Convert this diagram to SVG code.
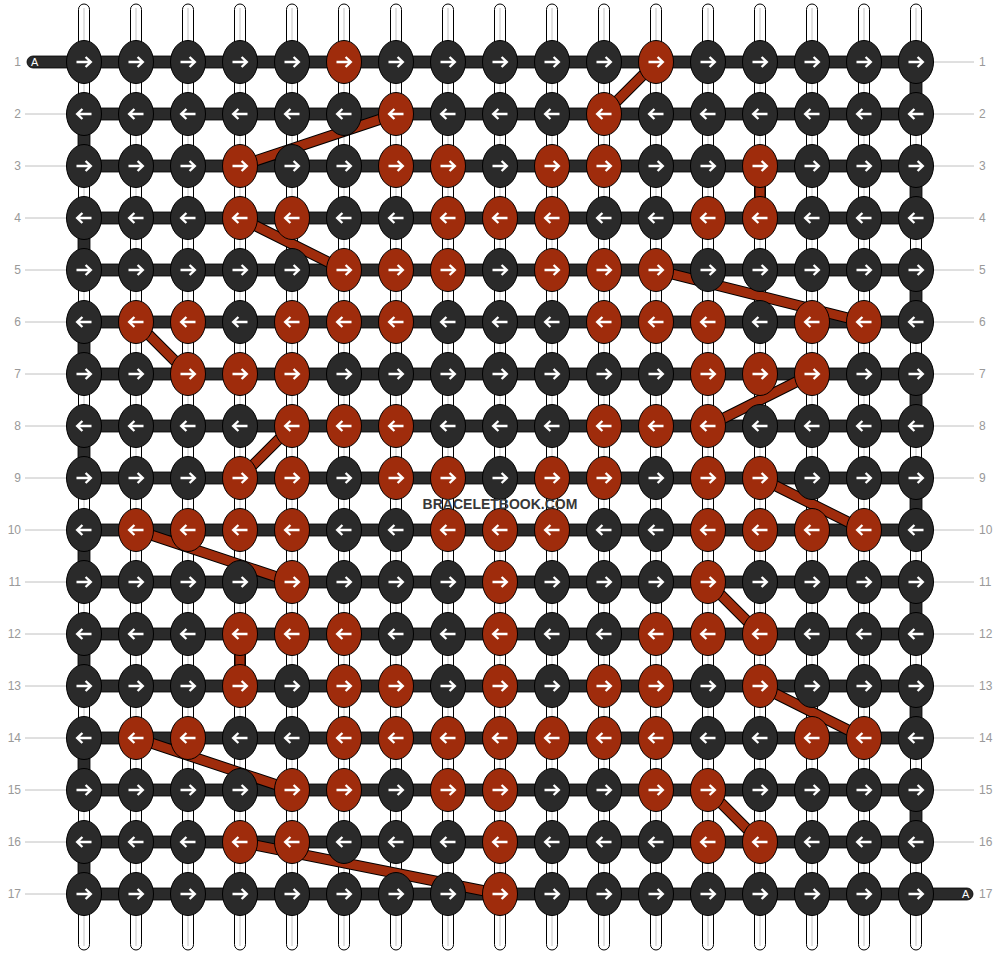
<svg xmlns="http://www.w3.org/2000/svg" xmlns:xlink="http://www.w3.org/1999/xlink" width="1000" height="956" viewBox="0 0 1000 956">
<style>
.d{fill:#2a2a2a}
.o{fill:#9f2c0c}
ellipse{stroke:#000;stroke-width:1}
.str rect{fill:#fff;stroke:#000;stroke-width:1}
.str line{stroke:#c4c4c4;stroke-width:1}
.bar{fill:#2a2a2a;stroke:#000;stroke-width:0.8}
.lbl{font-family:"Liberation Sans",Arial,sans-serif;font-size:12px;fill:#999}
.gl{stroke:#c0c0c0;stroke-width:1}
.at{font-family:"Liberation Sans",Arial,sans-serif;font-size:11px;fill:#fff}
.wm{font-family:"Liberation Sans",Arial,sans-serif;font-size:14px;font-weight:bold;fill:#383838}
</style>
<defs>
<path id="R" d="M-7.5,0H6.2M1.6,-5L6.8,0L1.6,5" fill="none" stroke="#fff" stroke-width="2.4"/>
<path id="L" d="M7.5,0H-6.2M-1.6,-5L-6.8,0L-1.6,5" fill="none" stroke="#fff" stroke-width="2.4"/>
</defs>
<g id="strings" class="str">
<rect x="78.5" y="4" width="11" height="946" rx="5.5"/><line x1="84" y1="8" x2="84" y2="946"/>
<rect x="130.5" y="4" width="11" height="946" rx="5.5"/><line x1="136" y1="8" x2="136" y2="946"/>
<rect x="182.5" y="4" width="11" height="946" rx="5.5"/><line x1="188" y1="8" x2="188" y2="946"/>
<rect x="234.5" y="4" width="11" height="946" rx="5.5"/><line x1="240" y1="8" x2="240" y2="946"/>
<rect x="286.5" y="4" width="11" height="946" rx="5.5"/><line x1="292" y1="8" x2="292" y2="946"/>
<rect x="338.5" y="4" width="11" height="946" rx="5.5"/><line x1="344" y1="8" x2="344" y2="946"/>
<rect x="390.5" y="4" width="11" height="946" rx="5.5"/><line x1="396" y1="8" x2="396" y2="946"/>
<rect x="442.5" y="4" width="11" height="946" rx="5.5"/><line x1="448" y1="8" x2="448" y2="946"/>
<rect x="494.5" y="4" width="11" height="946" rx="5.5"/><line x1="500" y1="8" x2="500" y2="946"/>
<rect x="546.5" y="4" width="11" height="946" rx="5.5"/><line x1="552" y1="8" x2="552" y2="946"/>
<rect x="598.5" y="4" width="11" height="946" rx="5.5"/><line x1="604" y1="8" x2="604" y2="946"/>
<rect x="650.5" y="4" width="11" height="946" rx="5.5"/><line x1="656" y1="8" x2="656" y2="946"/>
<rect x="702.5" y="4" width="11" height="946" rx="5.5"/><line x1="708" y1="8" x2="708" y2="946"/>
<rect x="754.5" y="4" width="11" height="946" rx="5.5"/><line x1="760" y1="8" x2="760" y2="946"/>
<rect x="806.5" y="4" width="11" height="946" rx="5.5"/><line x1="812" y1="8" x2="812" y2="946"/>
<rect x="858.5" y="4" width="11" height="946" rx="5.5"/><line x1="864" y1="8" x2="864" y2="946"/>
<rect x="910.5" y="4" width="11" height="946" rx="5.5"/><line x1="916" y1="8" x2="916" y2="946"/>
</g>
<g id="labels">
<g class="gl">
<line x1="25" y1="114" x2="67" y2="114"/><line x1="25" y1="166" x2="67" y2="166"/><line x1="25" y1="218" x2="67" y2="218"/><line x1="25" y1="270" x2="67" y2="270"/><line x1="25" y1="322" x2="67" y2="322"/><line x1="25" y1="374" x2="67" y2="374"/><line x1="25" y1="426" x2="67" y2="426"/><line x1="25" y1="478" x2="67" y2="478"/><line x1="25" y1="530" x2="67" y2="530"/><line x1="25" y1="582" x2="67" y2="582"/><line x1="25" y1="634" x2="67" y2="634"/><line x1="25" y1="686" x2="67" y2="686"/><line x1="25" y1="738" x2="67" y2="738"/><line x1="25" y1="790" x2="67" y2="790"/><line x1="25" y1="842" x2="67" y2="842"/><line x1="25" y1="894" x2="67" y2="894"/>
<line x1="933" y1="62" x2="974" y2="62"/><line x1="933" y1="114" x2="974" y2="114"/><line x1="933" y1="166" x2="974" y2="166"/><line x1="933" y1="218" x2="974" y2="218"/><line x1="933" y1="270" x2="974" y2="270"/><line x1="933" y1="322" x2="974" y2="322"/><line x1="933" y1="374" x2="974" y2="374"/><line x1="933" y1="426" x2="974" y2="426"/><line x1="933" y1="478" x2="974" y2="478"/><line x1="933" y1="530" x2="974" y2="530"/><line x1="933" y1="582" x2="974" y2="582"/><line x1="933" y1="634" x2="974" y2="634"/><line x1="933" y1="686" x2="974" y2="686"/><line x1="933" y1="738" x2="974" y2="738"/><line x1="933" y1="790" x2="974" y2="790"/><line x1="933" y1="842" x2="974" y2="842"/>
</g>
<g class="lbl" text-anchor="end">
<text x="21" y="66">1</text><text x="21" y="118">2</text><text x="21" y="170">3</text><text x="21" y="222">4</text><text x="21" y="274">5</text><text x="21" y="326">6</text><text x="21" y="378">7</text><text x="21" y="430">8</text><text x="21" y="482">9</text><text x="21" y="534">10</text><text x="21" y="586">11</text><text x="21" y="638">12</text><text x="21" y="690">13</text><text x="21" y="742">14</text><text x="21" y="794">15</text><text x="21" y="846">16</text><text x="21" y="898">17</text>
</g>
<g class="lbl">
<text x="979" y="66">1</text><text x="979" y="118">2</text><text x="979" y="170">3</text><text x="979" y="222">4</text><text x="979" y="274">5</text><text x="979" y="326">6</text><text x="979" y="378">7</text><text x="979" y="430">8</text><text x="979" y="482">9</text><text x="979" y="534">10</text><text x="979" y="586">11</text><text x="979" y="638">12</text><text x="979" y="690">13</text><text x="979" y="742">14</text><text x="979" y="794">15</text><text x="979" y="846">16</text><text x="979" y="898">17</text>
</g>
</g>
<g id="connectors">
<g class="bar">
<rect x="27" y="56" width="62" height="12" rx="6"/>
<rect x="911" y="888" width="62" height="12" rx="6"/>
<rect x="84" y="56" width="832" height="12"/><rect x="84" y="108" width="832" height="12"/><rect x="84" y="160" width="832" height="12"/><rect x="84" y="212" width="832" height="12"/><rect x="84" y="264" width="832" height="12"/><rect x="84" y="316" width="832" height="12"/><rect x="84" y="368" width="832" height="12"/><rect x="84" y="420" width="832" height="12"/><rect x="84" y="472" width="832" height="12"/><rect x="84" y="524" width="832" height="12"/><rect x="84" y="576" width="832" height="12"/><rect x="84" y="628" width="832" height="12"/><rect x="84" y="680" width="832" height="12"/><rect x="84" y="732" width="832" height="12"/><rect x="84" y="784" width="832" height="12"/><rect x="84" y="836" width="832" height="12"/><rect x="84" y="888" width="832" height="12"/>
<rect x="910" y="62" width="12" height="52"/><rect x="910" y="166" width="12" height="52"/><rect x="910" y="270" width="12" height="52"/><rect x="910" y="374" width="12" height="52"/><rect x="910" y="478" width="12" height="52"/><rect x="910" y="582" width="12" height="52"/><rect x="910" y="686" width="12" height="52"/><rect x="910" y="790" width="12" height="52"/>
<rect x="78" y="114" width="12" height="52"/><rect x="78" y="218" width="12" height="52"/><rect x="78" y="322" width="12" height="52"/><rect x="78" y="426" width="12" height="52"/><rect x="78" y="530" width="12" height="52"/><rect x="78" y="634" width="12" height="52"/><rect x="78" y="738" width="12" height="52"/><rect x="78" y="842" width="12" height="52"/>
</g>
<path id="ob" fill="none" stroke="#000" stroke-width="11" d="M656,62L604,114M396,114L240,166M760,166L760,218M240,218L344,270M656,270L864,322M136,322L188,374M812,374L708,426M292,426L240,478M760,478L864,530M136,530L292,582M708,582L760,634M240,634L240,686M760,686L864,738M136,738L292,790M708,790L760,842M240,842L500,894"/>
<path fill="none" stroke="#9f2c0c" stroke-width="9" d="M656,62L604,114M396,114L240,166M760,166L760,218M240,218L344,270M656,270L864,322M136,322L188,374M812,374L708,426M292,426L240,478M760,478L864,530M136,530L292,582M708,582L760,634M240,634L240,686M760,686L864,738M136,738L292,790M708,790L760,842M240,842L500,894"/>
</g>
<g id="knots">
<g id="r1c1" transform="translate(84,62)"><ellipse class="d" rx="17.5" ry="21.5"/><use href="#R"/></g>
<g id="r1c2" transform="translate(136,62)"><ellipse class="d" rx="17.5" ry="21.5"/><use href="#R"/></g>
<g id="r1c3" transform="translate(188,62)"><ellipse class="d" rx="17.5" ry="21.5"/><use href="#R"/></g>
<g id="r1c4" transform="translate(240,62)"><ellipse class="d" rx="17.5" ry="21.5"/><use href="#R"/></g>
<g id="r1c5" transform="translate(292,62)"><ellipse class="d" rx="17.5" ry="21.5"/><use href="#R"/></g>
<g id="r1c6" transform="translate(344,62)"><ellipse class="o" rx="17.5" ry="21.5"/><use href="#R"/></g>
<g id="r1c7" transform="translate(396,62)"><ellipse class="d" rx="17.5" ry="21.5"/><use href="#R"/></g>
<g id="r1c8" transform="translate(448,62)"><ellipse class="d" rx="17.5" ry="21.5"/><use href="#R"/></g>
<g id="r1c9" transform="translate(500,62)"><ellipse class="d" rx="17.5" ry="21.5"/><use href="#R"/></g>
<g id="r1c10" transform="translate(552,62)"><ellipse class="d" rx="17.5" ry="21.5"/><use href="#R"/></g>
<g id="r1c11" transform="translate(604,62)"><ellipse class="d" rx="17.5" ry="21.5"/><use href="#R"/></g>
<g id="r1c12" transform="translate(656,62)"><ellipse class="o" rx="17.5" ry="21.5"/><use href="#R"/></g>
<g id="r1c13" transform="translate(708,62)"><ellipse class="d" rx="17.5" ry="21.5"/><use href="#R"/></g>
<g id="r1c14" transform="translate(760,62)"><ellipse class="d" rx="17.5" ry="21.5"/><use href="#R"/></g>
<g id="r1c15" transform="translate(812,62)"><ellipse class="d" rx="17.5" ry="21.5"/><use href="#R"/></g>
<g id="r1c16" transform="translate(864,62)"><ellipse class="d" rx="17.5" ry="21.5"/><use href="#R"/></g>
<g id="r1c17" transform="translate(916,62)"><ellipse class="d" rx="17.5" ry="21.5"/><use href="#R"/></g>
<g id="r2c1" transform="translate(84,114)"><ellipse class="d" rx="17.5" ry="21.5"/><use href="#L"/></g>
<g id="r2c2" transform="translate(136,114)"><ellipse class="d" rx="17.5" ry="21.5"/><use href="#L"/></g>
<g id="r2c3" transform="translate(188,114)"><ellipse class="d" rx="17.5" ry="21.5"/><use href="#L"/></g>
<g id="r2c4" transform="translate(240,114)"><ellipse class="d" rx="17.5" ry="21.5"/><use href="#L"/></g>
<g id="r2c5" transform="translate(292,114)"><ellipse class="d" rx="17.5" ry="21.5"/><use href="#L"/></g>
<g id="r2c6" transform="translate(344,114)"><ellipse class="d" rx="17.5" ry="21.5"/><use href="#L"/></g>
<g id="r2c7" transform="translate(396,114)"><ellipse class="o" rx="17.5" ry="21.5"/><use href="#L"/></g>
<g id="r2c8" transform="translate(448,114)"><ellipse class="d" rx="17.5" ry="21.5"/><use href="#L"/></g>
<g id="r2c9" transform="translate(500,114)"><ellipse class="d" rx="17.5" ry="21.5"/><use href="#L"/></g>
<g id="r2c10" transform="translate(552,114)"><ellipse class="d" rx="17.5" ry="21.5"/><use href="#L"/></g>
<g id="r2c11" transform="translate(604,114)"><ellipse class="o" rx="17.5" ry="21.5"/><use href="#L"/></g>
<g id="r2c12" transform="translate(656,114)"><ellipse class="d" rx="17.5" ry="21.5"/><use href="#L"/></g>
<g id="r2c13" transform="translate(708,114)"><ellipse class="d" rx="17.5" ry="21.5"/><use href="#L"/></g>
<g id="r2c14" transform="translate(760,114)"><ellipse class="d" rx="17.5" ry="21.5"/><use href="#L"/></g>
<g id="r2c15" transform="translate(812,114)"><ellipse class="d" rx="17.5" ry="21.5"/><use href="#L"/></g>
<g id="r2c16" transform="translate(864,114)"><ellipse class="d" rx="17.5" ry="21.5"/><use href="#L"/></g>
<g id="r2c17" transform="translate(916,114)"><ellipse class="d" rx="17.5" ry="21.5"/><use href="#L"/></g>
<g id="r3c1" transform="translate(84,166)"><ellipse class="d" rx="17.5" ry="21.5"/><use href="#R"/></g>
<g id="r3c2" transform="translate(136,166)"><ellipse class="d" rx="17.5" ry="21.5"/><use href="#R"/></g>
<g id="r3c3" transform="translate(188,166)"><ellipse class="d" rx="17.5" ry="21.5"/><use href="#R"/></g>
<g id="r3c4" transform="translate(240,166)"><ellipse class="o" rx="17.5" ry="21.5"/><use href="#R"/></g>
<g id="r3c5" transform="translate(292,166)"><ellipse class="d" rx="17.5" ry="21.5"/><use href="#R"/></g>
<g id="r3c6" transform="translate(344,166)"><ellipse class="d" rx="17.5" ry="21.5"/><use href="#R"/></g>
<g id="r3c7" transform="translate(396,166)"><ellipse class="o" rx="17.5" ry="21.5"/><use href="#R"/></g>
<g id="r3c8" transform="translate(448,166)"><ellipse class="o" rx="17.5" ry="21.5"/><use href="#R"/></g>
<g id="r3c9" transform="translate(500,166)"><ellipse class="d" rx="17.5" ry="21.5"/><use href="#R"/></g>
<g id="r3c10" transform="translate(552,166)"><ellipse class="o" rx="17.5" ry="21.5"/><use href="#R"/></g>
<g id="r3c11" transform="translate(604,166)"><ellipse class="o" rx="17.5" ry="21.5"/><use href="#R"/></g>
<g id="r3c12" transform="translate(656,166)"><ellipse class="d" rx="17.5" ry="21.5"/><use href="#R"/></g>
<g id="r3c13" transform="translate(708,166)"><ellipse class="d" rx="17.5" ry="21.5"/><use href="#R"/></g>
<g id="r3c14" transform="translate(760,166)"><ellipse class="o" rx="17.5" ry="21.5"/><use href="#R"/></g>
<g id="r3c15" transform="translate(812,166)"><ellipse class="d" rx="17.5" ry="21.5"/><use href="#R"/></g>
<g id="r3c16" transform="translate(864,166)"><ellipse class="d" rx="17.5" ry="21.5"/><use href="#R"/></g>
<g id="r3c17" transform="translate(916,166)"><ellipse class="d" rx="17.5" ry="21.5"/><use href="#R"/></g>
<g id="r4c1" transform="translate(84,218)"><ellipse class="d" rx="17.5" ry="21.5"/><use href="#L"/></g>
<g id="r4c2" transform="translate(136,218)"><ellipse class="d" rx="17.5" ry="21.5"/><use href="#L"/></g>
<g id="r4c3" transform="translate(188,218)"><ellipse class="d" rx="17.5" ry="21.5"/><use href="#L"/></g>
<g id="r4c4" transform="translate(240,218)"><ellipse class="o" rx="17.5" ry="21.5"/><use href="#L"/></g>
<g id="r4c5" transform="translate(292,218)"><ellipse class="o" rx="17.5" ry="21.5"/><use href="#L"/></g>
<g id="r4c6" transform="translate(344,218)"><ellipse class="d" rx="17.5" ry="21.5"/><use href="#L"/></g>
<g id="r4c7" transform="translate(396,218)"><ellipse class="d" rx="17.5" ry="21.5"/><use href="#L"/></g>
<g id="r4c8" transform="translate(448,218)"><ellipse class="o" rx="17.5" ry="21.5"/><use href="#L"/></g>
<g id="r4c9" transform="translate(500,218)"><ellipse class="o" rx="17.5" ry="21.5"/><use href="#L"/></g>
<g id="r4c10" transform="translate(552,218)"><ellipse class="o" rx="17.5" ry="21.5"/><use href="#L"/></g>
<g id="r4c11" transform="translate(604,218)"><ellipse class="d" rx="17.5" ry="21.5"/><use href="#L"/></g>
<g id="r4c12" transform="translate(656,218)"><ellipse class="d" rx="17.5" ry="21.5"/><use href="#L"/></g>
<g id="r4c13" transform="translate(708,218)"><ellipse class="o" rx="17.5" ry="21.5"/><use href="#L"/></g>
<g id="r4c14" transform="translate(760,218)"><ellipse class="o" rx="17.5" ry="21.5"/><use href="#L"/></g>
<g id="r4c15" transform="translate(812,218)"><ellipse class="d" rx="17.5" ry="21.5"/><use href="#L"/></g>
<g id="r4c16" transform="translate(864,218)"><ellipse class="d" rx="17.5" ry="21.5"/><use href="#L"/></g>
<g id="r4c17" transform="translate(916,218)"><ellipse class="d" rx="17.5" ry="21.5"/><use href="#L"/></g>
<g id="r5c1" transform="translate(84,270)"><ellipse class="d" rx="17.5" ry="21.5"/><use href="#R"/></g>
<g id="r5c2" transform="translate(136,270)"><ellipse class="d" rx="17.5" ry="21.5"/><use href="#R"/></g>
<g id="r5c3" transform="translate(188,270)"><ellipse class="d" rx="17.5" ry="21.5"/><use href="#R"/></g>
<g id="r5c4" transform="translate(240,270)"><ellipse class="d" rx="17.5" ry="21.5"/><use href="#R"/></g>
<g id="r5c5" transform="translate(292,270)"><ellipse class="d" rx="17.5" ry="21.5"/><use href="#R"/></g>
<g id="r5c6" transform="translate(344,270)"><ellipse class="o" rx="17.5" ry="21.5"/><use href="#R"/></g>
<g id="r5c7" transform="translate(396,270)"><ellipse class="o" rx="17.5" ry="21.5"/><use href="#R"/></g>
<g id="r5c8" transform="translate(448,270)"><ellipse class="o" rx="17.5" ry="21.5"/><use href="#R"/></g>
<g id="r5c9" transform="translate(500,270)"><ellipse class="d" rx="17.5" ry="21.5"/><use href="#R"/></g>
<g id="r5c10" transform="translate(552,270)"><ellipse class="o" rx="17.5" ry="21.5"/><use href="#R"/></g>
<g id="r5c11" transform="translate(604,270)"><ellipse class="o" rx="17.5" ry="21.5"/><use href="#R"/></g>
<g id="r5c12" transform="translate(656,270)"><ellipse class="o" rx="17.5" ry="21.5"/><use href="#R"/></g>
<g id="r5c13" transform="translate(708,270)"><ellipse class="d" rx="17.5" ry="21.5"/><use href="#R"/></g>
<g id="r5c14" transform="translate(760,270)"><ellipse class="d" rx="17.5" ry="21.5"/><use href="#R"/></g>
<g id="r5c15" transform="translate(812,270)"><ellipse class="d" rx="17.5" ry="21.5"/><use href="#R"/></g>
<g id="r5c16" transform="translate(864,270)"><ellipse class="d" rx="17.5" ry="21.5"/><use href="#R"/></g>
<g id="r5c17" transform="translate(916,270)"><ellipse class="d" rx="17.5" ry="21.5"/><use href="#R"/></g>
<g id="r6c1" transform="translate(84,322)"><ellipse class="d" rx="17.5" ry="21.5"/><use href="#L"/></g>
<g id="r6c2" transform="translate(136,322)"><ellipse class="o" rx="17.5" ry="21.5"/><use href="#L"/></g>
<g id="r6c3" transform="translate(188,322)"><ellipse class="o" rx="17.5" ry="21.5"/><use href="#L"/></g>
<g id="r6c4" transform="translate(240,322)"><ellipse class="d" rx="17.5" ry="21.5"/><use href="#L"/></g>
<g id="r6c5" transform="translate(292,322)"><ellipse class="o" rx="17.5" ry="21.5"/><use href="#L"/></g>
<g id="r6c6" transform="translate(344,322)"><ellipse class="o" rx="17.5" ry="21.5"/><use href="#L"/></g>
<g id="r6c7" transform="translate(396,322)"><ellipse class="o" rx="17.5" ry="21.5"/><use href="#L"/></g>
<g id="r6c8" transform="translate(448,322)"><ellipse class="d" rx="17.5" ry="21.5"/><use href="#L"/></g>
<g id="r6c9" transform="translate(500,322)"><ellipse class="d" rx="17.5" ry="21.5"/><use href="#L"/></g>
<g id="r6c10" transform="translate(552,322)"><ellipse class="d" rx="17.5" ry="21.5"/><use href="#L"/></g>
<g id="r6c11" transform="translate(604,322)"><ellipse class="o" rx="17.5" ry="21.5"/><use href="#L"/></g>
<g id="r6c12" transform="translate(656,322)"><ellipse class="o" rx="17.5" ry="21.5"/><use href="#L"/></g>
<g id="r6c13" transform="translate(708,322)"><ellipse class="o" rx="17.5" ry="21.5"/><use href="#L"/></g>
<g id="r6c14" transform="translate(760,322)"><ellipse class="d" rx="17.5" ry="21.5"/><use href="#L"/></g>
<g id="r6c15" transform="translate(812,322)"><ellipse class="o" rx="17.5" ry="21.5"/><use href="#L"/></g>
<g id="r6c16" transform="translate(864,322)"><ellipse class="o" rx="17.5" ry="21.5"/><use href="#L"/></g>
<g id="r6c17" transform="translate(916,322)"><ellipse class="d" rx="17.5" ry="21.5"/><use href="#L"/></g>
<g id="r7c1" transform="translate(84,374)"><ellipse class="d" rx="17.5" ry="21.5"/><use href="#R"/></g>
<g id="r7c2" transform="translate(136,374)"><ellipse class="d" rx="17.5" ry="21.5"/><use href="#R"/></g>
<g id="r7c3" transform="translate(188,374)"><ellipse class="o" rx="17.5" ry="21.5"/><use href="#R"/></g>
<g id="r7c4" transform="translate(240,374)"><ellipse class="o" rx="17.5" ry="21.5"/><use href="#R"/></g>
<g id="r7c5" transform="translate(292,374)"><ellipse class="o" rx="17.5" ry="21.5"/><use href="#R"/></g>
<g id="r7c6" transform="translate(344,374)"><ellipse class="d" rx="17.5" ry="21.5"/><use href="#R"/></g>
<g id="r7c7" transform="translate(396,374)"><ellipse class="d" rx="17.5" ry="21.5"/><use href="#R"/></g>
<g id="r7c8" transform="translate(448,374)"><ellipse class="d" rx="17.5" ry="21.5"/><use href="#R"/></g>
<g id="r7c9" transform="translate(500,374)"><ellipse class="d" rx="17.5" ry="21.5"/><use href="#R"/></g>
<g id="r7c10" transform="translate(552,374)"><ellipse class="d" rx="17.5" ry="21.5"/><use href="#R"/></g>
<g id="r7c11" transform="translate(604,374)"><ellipse class="d" rx="17.5" ry="21.5"/><use href="#R"/></g>
<g id="r7c12" transform="translate(656,374)"><ellipse class="d" rx="17.5" ry="21.5"/><use href="#R"/></g>
<g id="r7c13" transform="translate(708,374)"><ellipse class="o" rx="17.5" ry="21.5"/><use href="#R"/></g>
<g id="r7c14" transform="translate(760,374)"><ellipse class="o" rx="17.5" ry="21.5"/><use href="#R"/></g>
<g id="r7c15" transform="translate(812,374)"><ellipse class="o" rx="17.5" ry="21.5"/><use href="#R"/></g>
<g id="r7c16" transform="translate(864,374)"><ellipse class="d" rx="17.5" ry="21.5"/><use href="#R"/></g>
<g id="r7c17" transform="translate(916,374)"><ellipse class="d" rx="17.5" ry="21.5"/><use href="#R"/></g>
<g id="r8c1" transform="translate(84,426)"><ellipse class="d" rx="17.5" ry="21.5"/><use href="#L"/></g>
<g id="r8c2" transform="translate(136,426)"><ellipse class="d" rx="17.5" ry="21.5"/><use href="#L"/></g>
<g id="r8c3" transform="translate(188,426)"><ellipse class="d" rx="17.5" ry="21.5"/><use href="#L"/></g>
<g id="r8c4" transform="translate(240,426)"><ellipse class="d" rx="17.5" ry="21.5"/><use href="#L"/></g>
<g id="r8c5" transform="translate(292,426)"><ellipse class="o" rx="17.5" ry="21.5"/><use href="#L"/></g>
<g id="r8c6" transform="translate(344,426)"><ellipse class="o" rx="17.5" ry="21.5"/><use href="#L"/></g>
<g id="r8c7" transform="translate(396,426)"><ellipse class="o" rx="17.5" ry="21.5"/><use href="#L"/></g>
<g id="r8c8" transform="translate(448,426)"><ellipse class="d" rx="17.5" ry="21.5"/><use href="#L"/></g>
<g id="r8c9" transform="translate(500,426)"><ellipse class="d" rx="17.5" ry="21.5"/><use href="#L"/></g>
<g id="r8c10" transform="translate(552,426)"><ellipse class="d" rx="17.5" ry="21.5"/><use href="#L"/></g>
<g id="r8c11" transform="translate(604,426)"><ellipse class="o" rx="17.5" ry="21.5"/><use href="#L"/></g>
<g id="r8c12" transform="translate(656,426)"><ellipse class="o" rx="17.5" ry="21.5"/><use href="#L"/></g>
<g id="r8c13" transform="translate(708,426)"><ellipse class="o" rx="17.5" ry="21.5"/><use href="#L"/></g>
<g id="r8c14" transform="translate(760,426)"><ellipse class="d" rx="17.5" ry="21.5"/><use href="#L"/></g>
<g id="r8c15" transform="translate(812,426)"><ellipse class="d" rx="17.5" ry="21.5"/><use href="#L"/></g>
<g id="r8c16" transform="translate(864,426)"><ellipse class="d" rx="17.5" ry="21.5"/><use href="#L"/></g>
<g id="r8c17" transform="translate(916,426)"><ellipse class="d" rx="17.5" ry="21.5"/><use href="#L"/></g>
<g id="r9c1" transform="translate(84,478)"><ellipse class="d" rx="17.5" ry="21.5"/><use href="#R"/></g>
<g id="r9c2" transform="translate(136,478)"><ellipse class="d" rx="17.5" ry="21.5"/><use href="#R"/></g>
<g id="r9c3" transform="translate(188,478)"><ellipse class="d" rx="17.5" ry="21.5"/><use href="#R"/></g>
<g id="r9c4" transform="translate(240,478)"><ellipse class="o" rx="17.5" ry="21.5"/><use href="#R"/></g>
<g id="r9c5" transform="translate(292,478)"><ellipse class="o" rx="17.5" ry="21.5"/><use href="#R"/></g>
<g id="r9c6" transform="translate(344,478)"><ellipse class="d" rx="17.5" ry="21.5"/><use href="#R"/></g>
<g id="r9c7" transform="translate(396,478)"><ellipse class="o" rx="17.5" ry="21.5"/><use href="#R"/></g>
<g id="r9c8" transform="translate(448,478)"><ellipse class="o" rx="17.5" ry="21.5"/><use href="#R"/></g>
<g id="r9c9" transform="translate(500,478)"><ellipse class="d" rx="17.5" ry="21.5"/><use href="#R"/></g>
<g id="r9c10" transform="translate(552,478)"><ellipse class="o" rx="17.5" ry="21.5"/><use href="#R"/></g>
<g id="r9c11" transform="translate(604,478)"><ellipse class="o" rx="17.5" ry="21.5"/><use href="#R"/></g>
<g id="r9c12" transform="translate(656,478)"><ellipse class="d" rx="17.5" ry="21.5"/><use href="#R"/></g>
<g id="r9c13" transform="translate(708,478)"><ellipse class="o" rx="17.5" ry="21.5"/><use href="#R"/></g>
<g id="r9c14" transform="translate(760,478)"><ellipse class="o" rx="17.5" ry="21.5"/><use href="#R"/></g>
<g id="r9c15" transform="translate(812,478)"><ellipse class="d" rx="17.5" ry="21.5"/><use href="#R"/></g>
<g id="r9c16" transform="translate(864,478)"><ellipse class="d" rx="17.5" ry="21.5"/><use href="#R"/></g>
<g id="r9c17" transform="translate(916,478)"><ellipse class="d" rx="17.5" ry="21.5"/><use href="#R"/></g>
<g id="r10c1" transform="translate(84,530)"><ellipse class="d" rx="17.5" ry="21.5"/><use href="#L"/></g>
<g id="r10c2" transform="translate(136,530)"><ellipse class="o" rx="17.5" ry="21.5"/><use href="#L"/></g>
<g id="r10c3" transform="translate(188,530)"><ellipse class="o" rx="17.5" ry="21.5"/><use href="#L"/></g>
<g id="r10c4" transform="translate(240,530)"><ellipse class="o" rx="17.5" ry="21.5"/><use href="#L"/></g>
<g id="r10c5" transform="translate(292,530)"><ellipse class="o" rx="17.5" ry="21.5"/><use href="#L"/></g>
<g id="r10c6" transform="translate(344,530)"><ellipse class="d" rx="17.5" ry="21.5"/><use href="#L"/></g>
<g id="r10c7" transform="translate(396,530)"><ellipse class="d" rx="17.5" ry="21.5"/><use href="#L"/></g>
<g id="r10c8" transform="translate(448,530)"><ellipse class="o" rx="17.5" ry="21.5"/><use href="#L"/></g>
<g id="r10c9" transform="translate(500,530)"><ellipse class="o" rx="17.5" ry="21.5"/><use href="#L"/></g>
<g id="r10c10" transform="translate(552,530)"><ellipse class="o" rx="17.5" ry="21.5"/><use href="#L"/></g>
<g id="r10c11" transform="translate(604,530)"><ellipse class="d" rx="17.5" ry="21.5"/><use href="#L"/></g>
<g id="r10c12" transform="translate(656,530)"><ellipse class="d" rx="17.5" ry="21.5"/><use href="#L"/></g>
<g id="r10c13" transform="translate(708,530)"><ellipse class="o" rx="17.5" ry="21.5"/><use href="#L"/></g>
<g id="r10c14" transform="translate(760,530)"><ellipse class="o" rx="17.5" ry="21.5"/><use href="#L"/></g>
<g id="r10c15" transform="translate(812,530)"><ellipse class="o" rx="17.5" ry="21.5"/><use href="#L"/></g>
<g id="r10c16" transform="translate(864,530)"><ellipse class="o" rx="17.5" ry="21.5"/><use href="#L"/></g>
<g id="r10c17" transform="translate(916,530)"><ellipse class="d" rx="17.5" ry="21.5"/><use href="#L"/></g>
<g id="r11c1" transform="translate(84,582)"><ellipse class="d" rx="17.5" ry="21.5"/><use href="#R"/></g>
<g id="r11c2" transform="translate(136,582)"><ellipse class="d" rx="17.5" ry="21.5"/><use href="#R"/></g>
<g id="r11c3" transform="translate(188,582)"><ellipse class="d" rx="17.5" ry="21.5"/><use href="#R"/></g>
<g id="r11c4" transform="translate(240,582)"><ellipse class="d" rx="17.5" ry="21.5"/><use href="#R"/></g>
<g id="r11c5" transform="translate(292,582)"><ellipse class="o" rx="17.5" ry="21.5"/><use href="#R"/></g>
<g id="r11c6" transform="translate(344,582)"><ellipse class="d" rx="17.5" ry="21.5"/><use href="#R"/></g>
<g id="r11c7" transform="translate(396,582)"><ellipse class="d" rx="17.5" ry="21.5"/><use href="#R"/></g>
<g id="r11c8" transform="translate(448,582)"><ellipse class="d" rx="17.5" ry="21.5"/><use href="#R"/></g>
<g id="r11c9" transform="translate(500,582)"><ellipse class="o" rx="17.5" ry="21.5"/><use href="#R"/></g>
<g id="r11c10" transform="translate(552,582)"><ellipse class="d" rx="17.5" ry="21.5"/><use href="#R"/></g>
<g id="r11c11" transform="translate(604,582)"><ellipse class="d" rx="17.5" ry="21.5"/><use href="#R"/></g>
<g id="r11c12" transform="translate(656,582)"><ellipse class="d" rx="17.5" ry="21.5"/><use href="#R"/></g>
<g id="r11c13" transform="translate(708,582)"><ellipse class="o" rx="17.5" ry="21.5"/><use href="#R"/></g>
<g id="r11c14" transform="translate(760,582)"><ellipse class="d" rx="17.5" ry="21.5"/><use href="#R"/></g>
<g id="r11c15" transform="translate(812,582)"><ellipse class="d" rx="17.5" ry="21.5"/><use href="#R"/></g>
<g id="r11c16" transform="translate(864,582)"><ellipse class="d" rx="17.5" ry="21.5"/><use href="#R"/></g>
<g id="r11c17" transform="translate(916,582)"><ellipse class="d" rx="17.5" ry="21.5"/><use href="#R"/></g>
<g id="r12c1" transform="translate(84,634)"><ellipse class="d" rx="17.5" ry="21.5"/><use href="#L"/></g>
<g id="r12c2" transform="translate(136,634)"><ellipse class="d" rx="17.5" ry="21.5"/><use href="#L"/></g>
<g id="r12c3" transform="translate(188,634)"><ellipse class="d" rx="17.5" ry="21.5"/><use href="#L"/></g>
<g id="r12c4" transform="translate(240,634)"><ellipse class="o" rx="17.5" ry="21.5"/><use href="#L"/></g>
<g id="r12c5" transform="translate(292,634)"><ellipse class="o" rx="17.5" ry="21.5"/><use href="#L"/></g>
<g id="r12c6" transform="translate(344,634)"><ellipse class="o" rx="17.5" ry="21.5"/><use href="#L"/></g>
<g id="r12c7" transform="translate(396,634)"><ellipse class="d" rx="17.5" ry="21.5"/><use href="#L"/></g>
<g id="r12c8" transform="translate(448,634)"><ellipse class="d" rx="17.5" ry="21.5"/><use href="#L"/></g>
<g id="r12c9" transform="translate(500,634)"><ellipse class="o" rx="17.5" ry="21.5"/><use href="#L"/></g>
<g id="r12c10" transform="translate(552,634)"><ellipse class="d" rx="17.5" ry="21.5"/><use href="#L"/></g>
<g id="r12c11" transform="translate(604,634)"><ellipse class="d" rx="17.5" ry="21.5"/><use href="#L"/></g>
<g id="r12c12" transform="translate(656,634)"><ellipse class="o" rx="17.5" ry="21.5"/><use href="#L"/></g>
<g id="r12c13" transform="translate(708,634)"><ellipse class="o" rx="17.5" ry="21.5"/><use href="#L"/></g>
<g id="r12c14" transform="translate(760,634)"><ellipse class="o" rx="17.5" ry="21.5"/><use href="#L"/></g>
<g id="r12c15" transform="translate(812,634)"><ellipse class="d" rx="17.5" ry="21.5"/><use href="#L"/></g>
<g id="r12c16" transform="translate(864,634)"><ellipse class="d" rx="17.5" ry="21.5"/><use href="#L"/></g>
<g id="r12c17" transform="translate(916,634)"><ellipse class="d" rx="17.5" ry="21.5"/><use href="#L"/></g>
<g id="r13c1" transform="translate(84,686)"><ellipse class="d" rx="17.5" ry="21.5"/><use href="#R"/></g>
<g id="r13c2" transform="translate(136,686)"><ellipse class="d" rx="17.5" ry="21.5"/><use href="#R"/></g>
<g id="r13c3" transform="translate(188,686)"><ellipse class="d" rx="17.5" ry="21.5"/><use href="#R"/></g>
<g id="r13c4" transform="translate(240,686)"><ellipse class="o" rx="17.5" ry="21.5"/><use href="#R"/></g>
<g id="r13c5" transform="translate(292,686)"><ellipse class="d" rx="17.5" ry="21.5"/><use href="#R"/></g>
<g id="r13c6" transform="translate(344,686)"><ellipse class="o" rx="17.5" ry="21.5"/><use href="#R"/></g>
<g id="r13c7" transform="translate(396,686)"><ellipse class="o" rx="17.5" ry="21.5"/><use href="#R"/></g>
<g id="r13c8" transform="translate(448,686)"><ellipse class="d" rx="17.5" ry="21.5"/><use href="#R"/></g>
<g id="r13c9" transform="translate(500,686)"><ellipse class="o" rx="17.5" ry="21.5"/><use href="#R"/></g>
<g id="r13c10" transform="translate(552,686)"><ellipse class="d" rx="17.5" ry="21.5"/><use href="#R"/></g>
<g id="r13c11" transform="translate(604,686)"><ellipse class="o" rx="17.5" ry="21.5"/><use href="#R"/></g>
<g id="r13c12" transform="translate(656,686)"><ellipse class="o" rx="17.5" ry="21.5"/><use href="#R"/></g>
<g id="r13c13" transform="translate(708,686)"><ellipse class="d" rx="17.5" ry="21.5"/><use href="#R"/></g>
<g id="r13c14" transform="translate(760,686)"><ellipse class="o" rx="17.5" ry="21.5"/><use href="#R"/></g>
<g id="r13c15" transform="translate(812,686)"><ellipse class="d" rx="17.5" ry="21.5"/><use href="#R"/></g>
<g id="r13c16" transform="translate(864,686)"><ellipse class="d" rx="17.5" ry="21.5"/><use href="#R"/></g>
<g id="r13c17" transform="translate(916,686)"><ellipse class="d" rx="17.5" ry="21.5"/><use href="#R"/></g>
<g id="r14c1" transform="translate(84,738)"><ellipse class="d" rx="17.5" ry="21.5"/><use href="#L"/></g>
<g id="r14c2" transform="translate(136,738)"><ellipse class="o" rx="17.5" ry="21.5"/><use href="#L"/></g>
<g id="r14c3" transform="translate(188,738)"><ellipse class="o" rx="17.5" ry="21.5"/><use href="#L"/></g>
<g id="r14c4" transform="translate(240,738)"><ellipse class="d" rx="17.5" ry="21.5"/><use href="#L"/></g>
<g id="r14c5" transform="translate(292,738)"><ellipse class="d" rx="17.5" ry="21.5"/><use href="#L"/></g>
<g id="r14c6" transform="translate(344,738)"><ellipse class="o" rx="17.5" ry="21.5"/><use href="#L"/></g>
<g id="r14c7" transform="translate(396,738)"><ellipse class="o" rx="17.5" ry="21.5"/><use href="#L"/></g>
<g id="r14c8" transform="translate(448,738)"><ellipse class="o" rx="17.5" ry="21.5"/><use href="#L"/></g>
<g id="r14c9" transform="translate(500,738)"><ellipse class="o" rx="17.5" ry="21.5"/><use href="#L"/></g>
<g id="r14c10" transform="translate(552,738)"><ellipse class="o" rx="17.5" ry="21.5"/><use href="#L"/></g>
<g id="r14c11" transform="translate(604,738)"><ellipse class="o" rx="17.5" ry="21.5"/><use href="#L"/></g>
<g id="r14c12" transform="translate(656,738)"><ellipse class="o" rx="17.5" ry="21.5"/><use href="#L"/></g>
<g id="r14c13" transform="translate(708,738)"><ellipse class="d" rx="17.5" ry="21.5"/><use href="#L"/></g>
<g id="r14c14" transform="translate(760,738)"><ellipse class="d" rx="17.5" ry="21.5"/><use href="#L"/></g>
<g id="r14c15" transform="translate(812,738)"><ellipse class="o" rx="17.5" ry="21.5"/><use href="#L"/></g>
<g id="r14c16" transform="translate(864,738)"><ellipse class="o" rx="17.5" ry="21.5"/><use href="#L"/></g>
<g id="r14c17" transform="translate(916,738)"><ellipse class="d" rx="17.5" ry="21.5"/><use href="#L"/></g>
<g id="r15c1" transform="translate(84,790)"><ellipse class="d" rx="17.5" ry="21.5"/><use href="#R"/></g>
<g id="r15c2" transform="translate(136,790)"><ellipse class="d" rx="17.5" ry="21.5"/><use href="#R"/></g>
<g id="r15c3" transform="translate(188,790)"><ellipse class="d" rx="17.5" ry="21.5"/><use href="#R"/></g>
<g id="r15c4" transform="translate(240,790)"><ellipse class="d" rx="17.5" ry="21.5"/><use href="#R"/></g>
<g id="r15c5" transform="translate(292,790)"><ellipse class="o" rx="17.5" ry="21.5"/><use href="#R"/></g>
<g id="r15c6" transform="translate(344,790)"><ellipse class="o" rx="17.5" ry="21.5"/><use href="#R"/></g>
<g id="r15c7" transform="translate(396,790)"><ellipse class="d" rx="17.5" ry="21.5"/><use href="#R"/></g>
<g id="r15c8" transform="translate(448,790)"><ellipse class="o" rx="17.5" ry="21.5"/><use href="#R"/></g>
<g id="r15c9" transform="translate(500,790)"><ellipse class="o" rx="17.5" ry="21.5"/><use href="#R"/></g>
<g id="r15c10" transform="translate(552,790)"><ellipse class="d" rx="17.5" ry="21.5"/><use href="#R"/></g>
<g id="r15c11" transform="translate(604,790)"><ellipse class="d" rx="17.5" ry="21.5"/><use href="#R"/></g>
<g id="r15c12" transform="translate(656,790)"><ellipse class="o" rx="17.5" ry="21.5"/><use href="#R"/></g>
<g id="r15c13" transform="translate(708,790)"><ellipse class="o" rx="17.5" ry="21.5"/><use href="#R"/></g>
<g id="r15c14" transform="translate(760,790)"><ellipse class="d" rx="17.5" ry="21.5"/><use href="#R"/></g>
<g id="r15c15" transform="translate(812,790)"><ellipse class="d" rx="17.5" ry="21.5"/><use href="#R"/></g>
<g id="r15c16" transform="translate(864,790)"><ellipse class="d" rx="17.5" ry="21.5"/><use href="#R"/></g>
<g id="r15c17" transform="translate(916,790)"><ellipse class="d" rx="17.5" ry="21.5"/><use href="#R"/></g>
<g id="r16c1" transform="translate(84,842)"><ellipse class="d" rx="17.5" ry="21.5"/><use href="#L"/></g>
<g id="r16c2" transform="translate(136,842)"><ellipse class="d" rx="17.5" ry="21.5"/><use href="#L"/></g>
<g id="r16c3" transform="translate(188,842)"><ellipse class="d" rx="17.5" ry="21.5"/><use href="#L"/></g>
<g id="r16c4" transform="translate(240,842)"><ellipse class="o" rx="17.5" ry="21.5"/><use href="#L"/></g>
<g id="r16c5" transform="translate(292,842)"><ellipse class="o" rx="17.5" ry="21.5"/><use href="#L"/></g>
<g id="r16c6" transform="translate(344,842)"><ellipse class="d" rx="17.5" ry="21.5"/><use href="#L"/></g>
<g id="r16c7" transform="translate(396,842)"><ellipse class="d" rx="17.5" ry="21.5"/><use href="#L"/></g>
<g id="r16c8" transform="translate(448,842)"><ellipse class="d" rx="17.5" ry="21.5"/><use href="#L"/></g>
<g id="r16c9" transform="translate(500,842)"><ellipse class="o" rx="17.5" ry="21.5"/><use href="#L"/></g>
<g id="r16c10" transform="translate(552,842)"><ellipse class="d" rx="17.5" ry="21.5"/><use href="#L"/></g>
<g id="r16c11" transform="translate(604,842)"><ellipse class="d" rx="17.5" ry="21.5"/><use href="#L"/></g>
<g id="r16c12" transform="translate(656,842)"><ellipse class="d" rx="17.5" ry="21.5"/><use href="#L"/></g>
<g id="r16c13" transform="translate(708,842)"><ellipse class="o" rx="17.5" ry="21.5"/><use href="#L"/></g>
<g id="r16c14" transform="translate(760,842)"><ellipse class="o" rx="17.5" ry="21.5"/><use href="#L"/></g>
<g id="r16c15" transform="translate(812,842)"><ellipse class="d" rx="17.5" ry="21.5"/><use href="#L"/></g>
<g id="r16c16" transform="translate(864,842)"><ellipse class="d" rx="17.5" ry="21.5"/><use href="#L"/></g>
<g id="r16c17" transform="translate(916,842)"><ellipse class="d" rx="17.5" ry="21.5"/><use href="#L"/></g>
<g id="r17c1" transform="translate(84,894)"><ellipse class="d" rx="17.5" ry="21.5"/><use href="#R"/></g>
<g id="r17c2" transform="translate(136,894)"><ellipse class="d" rx="17.5" ry="21.5"/><use href="#R"/></g>
<g id="r17c3" transform="translate(188,894)"><ellipse class="d" rx="17.5" ry="21.5"/><use href="#R"/></g>
<g id="r17c4" transform="translate(240,894)"><ellipse class="d" rx="17.5" ry="21.5"/><use href="#R"/></g>
<g id="r17c5" transform="translate(292,894)"><ellipse class="d" rx="17.5" ry="21.5"/><use href="#R"/></g>
<g id="r17c6" transform="translate(344,894)"><ellipse class="d" rx="17.5" ry="21.5"/><use href="#R"/></g>
<g id="r17c7" transform="translate(396,894)"><ellipse class="d" rx="17.5" ry="21.5"/><use href="#R"/></g>
<g id="r17c8" transform="translate(448,894)"><ellipse class="d" rx="17.5" ry="21.5"/><use href="#R"/></g>
<g id="r17c9" transform="translate(500,894)"><ellipse class="o" rx="17.5" ry="21.5"/><use href="#R"/></g>
<g id="r17c10" transform="translate(552,894)"><ellipse class="d" rx="17.5" ry="21.5"/><use href="#R"/></g>
<g id="r17c11" transform="translate(604,894)"><ellipse class="d" rx="17.5" ry="21.5"/><use href="#R"/></g>
<g id="r17c12" transform="translate(656,894)"><ellipse class="d" rx="17.5" ry="21.5"/><use href="#R"/></g>
<g id="r17c13" transform="translate(708,894)"><ellipse class="d" rx="17.5" ry="21.5"/><use href="#R"/></g>
<g id="r17c14" transform="translate(760,894)"><ellipse class="d" rx="17.5" ry="21.5"/><use href="#R"/></g>
<g id="r17c15" transform="translate(812,894)"><ellipse class="d" rx="17.5" ry="21.5"/><use href="#R"/></g>
<g id="r17c16" transform="translate(864,894)"><ellipse class="d" rx="17.5" ry="21.5"/><use href="#R"/></g>
<g id="r17c17" transform="translate(916,894)"><ellipse class="d" rx="17.5" ry="21.5"/><use href="#R"/></g>
</g>
<g id="ends">
<text class="at" x="31" y="66">A</text>
<text class="at" x="962" y="898">A</text>
</g>
<text class="wm" x="500" y="509" text-anchor="middle">BRACELETBOOK.COM</text>
</svg>
